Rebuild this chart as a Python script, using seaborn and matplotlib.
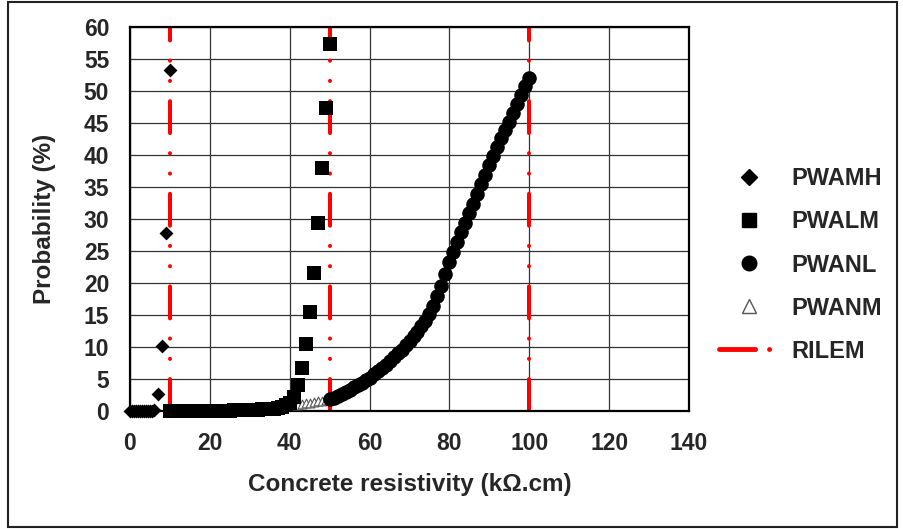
"""Probability of corrosion vs concrete resistivity, with RILEM limits."""

import matplotlib
matplotlib.use("Agg")
import matplotlib.pyplot as plt
import seaborn as sns
from matplotlib.lines import Line2D
from matplotlib.patches import Rectangle

# PWAMH (diamonds)
pwamh_x = [0, 0.5, 1, 1.5, 2, 2.5, 3, 3.5, 4, 4.5, 5, 5.5, 6, 7, 8, 9, 10]
pwamh_y = [0, 0, 0, 0, 0, 0, 0, 0, 0, 0, 0, 0, 0.1, 2.6, 10.2, 27.8, 53.2]

# PWALM (squares)
pwalm_x = [10, 11, 12, 13, 14, 15, 16, 17, 18, 19, 20, 21, 22, 23, 24, 25, 26,
           27, 28, 29, 30, 31, 32, 33, 34, 35, 36, 37, 38, 39, 40, 41, 42, 43,
           44, 45, 46, 47, 48, 49, 50]
pwalm_y = [0, 0, 0, 0, 0, 0, 0, 0, 0, 0, 0, 0, 0, 0, 0.05, 0.05, 0.1,
           0.1, 0.1, 0.15, 0.15, 0.2, 0.2, 0.25, 0.25, 0.3, 0.35, 0.5, 0.7, 0.9,
           1.2, 2.2, 4.1, 6.7, 10.5, 15.4, 21.6, 29.3, 38.0, 47.4, 57.3]

# PWANL (circles)
pwanl_x = [50, 51, 52, 53, 54, 55, 56, 57, 58, 59, 60, 61, 62, 63, 64, 65, 66,
           67, 68, 69, 70, 71, 72, 73, 74, 75, 76, 77, 78, 79, 80, 81, 82, 83,
           84, 85, 86, 87, 88, 89, 90, 91, 92, 93, 94, 95, 96, 97, 98, 99, 100]
pwanl_y = [1.9, 2.1, 2.4, 2.7, 3.0, 3.3, 3.7, 4.0, 4.4, 4.8, 5.2, 5.7, 6.2,
           6.7, 7.2, 7.8, 8.4, 9.0, 9.6, 10.3, 11.0, 11.7, 12.4, 13.2, 14.1,
           15.1, 16.4, 17.9, 19.6, 21.4, 23.2, 24.8, 26.4, 27.9, 29.4, 30.9,
           32.4, 33.9, 35.4, 36.9, 38.4, 39.9, 41.3, 42.6, 43.9, 45.2, 46.6,
           48.0, 49.4, 50.8, 52.0]

# PWANM (open triangles)
pwanm_x = [41, 42, 43, 44, 45, 46, 47, 48, 49]
pwanm_y = [0.9, 1.0, 1.1, 1.2, 1.3, 1.4, 1.5, 1.6, 1.7]

# RILEM limits
rilem_x = [10, 50, 100]
rilem_y = [0, 60]

x_ticks = [0, 20, 40, 60, 80, 100, 120, 140]
y_ticks = [0, 5, 10, 15, 20, 25, 30, 35, 40, 45, 50, 55, 60]

sns.set_theme(style="white")
plt.rcParams["font.family"] = ["Liberation Sans", "DejaVu Sans"]
plt.rcParams["font.weight"] = "bold"
plt.rcParams["lines.scale_dashes"] = False

RED = "#ff0000"
rilem_style = (0, (23, 14.5, 0.1, 14.5, 0.1, 14.5))

fig, ax = plt.subplots(figsize=(9.04, 5.29), dpi=100)
fig.subplots_adjust(left=0.1438, right=0.7622, bottom=0.2231, top=0.949)

for xv in rilem_x:
    sns.lineplot(x=[xv, xv], y=rilem_y, color=RED, linewidth=2.9,
                 linestyle=rilem_style, dash_capstyle="round", ax=ax, zorder=2,
                 sort=False, estimator=None)

sns.scatterplot(x=pwanm_x, y=pwanm_y, marker="^", s=40, facecolor="white",
                edgecolor="#555555", linewidth=0.8, ax=ax, zorder=3, clip_on=False)
sns.scatterplot(x=pwanl_x, y=pwanl_y, marker="o", s=110, color="black",
                edgecolor="black", linewidth=0, ax=ax, zorder=4, clip_on=False)
sns.scatterplot(x=pwalm_x, y=pwalm_y, marker="s", s=95, color="black",
                edgecolor="black", linewidth=0, ax=ax, zorder=5, clip_on=False)
sns.scatterplot(x=pwamh_x, y=pwamh_y, marker="D", s=50, color="black",
                edgecolor="black", linewidth=0, ax=ax, zorder=6, clip_on=False)

ax.set_xlim(0, 140)
ax.set_ylim(0, 60)
ax.set_xticks(x_ticks)
ax.set_yticks(y_ticks)
ax.grid(True, color="#333333", linewidth=0.9)
ax.set_axisbelow(True)
for sp in ax.spines.values():
    sp.set_color("black")
    sp.set_linewidth(1.6)

ax.tick_params(axis="both", length=0, pad=15, labelsize=16.5)
for lbl in ax.get_xticklabels() + ax.get_yticklabels():
    lbl.set_fontweight("bold")
ax.set_xlabel("Concrete resistivity (kΩ.cm)", fontsize=17.5, fontweight="bold", labelpad=13)
ax.set_ylabel("Probability (%)", fontsize=17.5, fontweight="bold", labelpad=20)

handles = [
    Line2D([], [], linestyle="none", marker="D", markersize=8, color="black"),
    Line2D([], [], linestyle="none", marker="s", markersize=10, color="black"),
    Line2D([], [], linestyle="none", marker="o", markersize=10.5, color="black"),
    Line2D([], [], linestyle="none", marker="^", markersize=9.5, markerfacecolor="white",
           markeredgecolor="#555555", markeredgewidth=1.0),
    Line2D([], [], color=RED, linewidth=3.5, linestyle=(0, (26, 10, 0.1, 30)),
           dash_capstyle="round"),
]
labels = ["PWAMH", "PWALM", "PWANL", "PWANM", "RILEM"]
ax.legend(handles, labels, loc="center left", bbox_to_anchor=(719 / 904, 1 - 265 / 529),
          bbox_transform=fig.transFigure, frameon=False, borderpad=0, borderaxespad=0,
          handlelength=2.55, handletextpad=0.5, labelspacing=0.85,
          prop={"size": 17, "weight": "bold"})

# outer frame around the whole chart
fig.patches.append(Rectangle((8 / 904, 2 / 529), 889 / 904, 525 / 529,
                             transform=fig.transFigure, fill=False,
                             edgecolor="#222222", linewidth=1.5))

fig.savefig("out.png", dpi=100)
